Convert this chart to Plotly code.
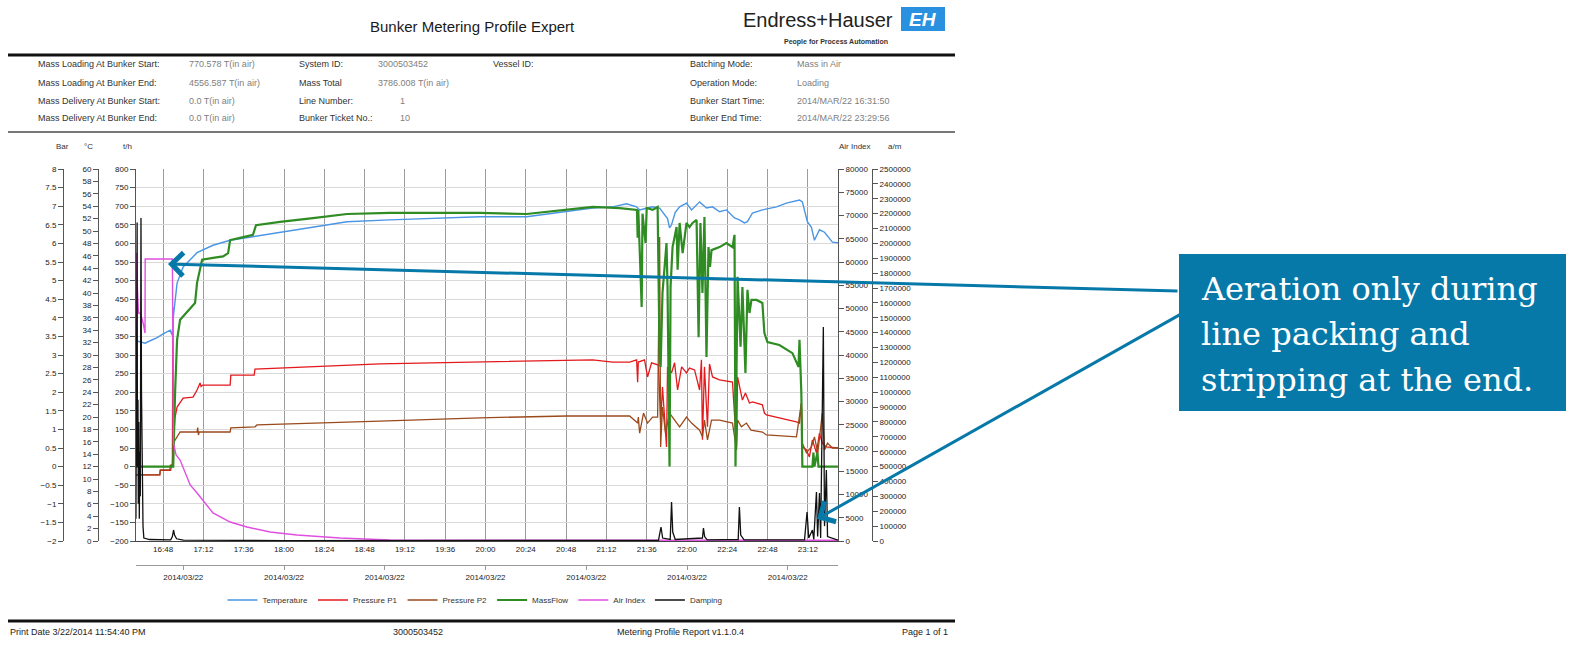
import pandas as pd
import plotly.graph_objects as go

W, H = 1572, 648
BASE = pd.Timestamp("2014-03-22 16:00:00")
T_START, T_END = 31.833, 449.933  # minutes after 16:00 (16:31:50 .. 23:29:56)

# ---------------- data (minutes after 16:00, value) ----------------
temp_t = [31.8, 37.3, 40.3, 44.4, 48.0, 52.2, 53.4, 54.0, 56.3, 58.1, 59.9, 68.2, 77.7, 87.9, 99.8,
          117.6, 137.2, 157.5, 183.0, 236.6, 264.5, 288.3, 303.8, 315.7, 324.0, 330.0, 331.8, 339.5,
          343.7, 348.4, 349.6, 350.8, 353.0, 355.6, 359.7, 362.7, 367.5, 371.6, 375.2, 379.4, 383.5,
          388.3, 391.2, 394.2, 396.0, 399.0, 404.9, 413.3, 419.2, 427.0, 428.7, 431.7, 434.1, 435.9,
          438.9, 441.9, 446.6, 449.9]
temp_v = [32.3, 31.9, 32.3, 32.8, 33.4, 34.0, 33.2, 36.0, 41.6, 43.0, 44.2, 46.5, 47.7, 48.5, 49.0,
          49.8, 50.6, 51.5, 51.8, 52.3, 52.3, 53.1, 53.7, 53.9, 54.4, 53.9, 53.4, 53.9,
          53.7, 52.0, 50.5, 51.0, 53.0, 53.9, 54.5, 53.4, 54.7, 53.7, 53.9, 53.1, 53.4,
          52.1, 51.8, 51.3, 51.5, 52.9, 53.4, 53.9, 54.5, 55.0, 54.7, 51.5, 50.6, 48.5,
          50.2, 49.8, 48.2, 48.1]

p1_t = [31.8, 46.0, 46.3, 52.5, 53.0, 53.5, 53.8, 54.1, 55.0, 56.3, 59.9, 65.8, 68.2, 70.0, 70.6,
        71.5, 87.9, 88.3, 102.2, 102.7, 177.1, 236.6, 288.3, 303.8, 315.7, 325.8, 330.0, 330.6,
        331.0, 334.7, 336.5, 338.9, 343.0, 344.3, 345.4, 347.8, 348.4, 350.8, 352.6, 354.4, 356.8,
        359.7, 361.5, 364.5, 367.5, 368.6, 369.2, 370.4, 372.2, 373.4, 375.2, 379.4, 387.1, 389.5,
        390.1, 393.0, 394.8, 397.2, 399.0, 404.9, 406.1, 407.3, 425.2, 427.0, 428.1, 428.7, 431.1,
        432.9, 434.7, 437.1, 438.9, 440.6, 443.0, 449.9]
p1_v = [-0.22, -0.22, -0.10, -0.10, 0.03, 0.03, 4.29, 0.66, 1.30, 1.60, 1.84, 1.87, 2.06, 2.25, 2.15,
        2.19, 2.19, 2.46, 2.46, 2.62, 2.76, 2.81, 2.87, 2.87, 2.81, 2.81, 2.87, 2.27,
        2.81, 2.87, 2.41, 2.79, 2.73, 1.17, 2.14, 0.53, 2.68, 2.52, 2.79, 2.06, 2.68,
        2.52, 2.65, 2.60, 2.06, 2.87, 0.72, 2.68, 1.07, 2.76, 2.41, 2.33, 2.27, 0.53,
        2.41, 1.79, 1.98, 1.71, 1.74, 1.66, 1.44, 1.39, 1.20, 1.17, 1.71, 0.53, 0.45,
        0.26, 0.72, 0.37, 0.90, 0.63, 0.53, 0.50]

p2_t = [31.8, 46.0, 46.3, 52.0, 52.3, 53.5, 54.0, 58.1, 68.2, 68.6, 69.0, 69.5, 87.9, 88.3, 102.7,
        103.9, 177.1, 236.6, 288.3, 325.8, 330.6, 331.0, 331.8, 334.1, 336.5, 339.5, 342.5, 343.7,
        344.3, 345.4, 347.2, 349.6, 355.6, 359.7, 362.7, 367.5, 369.2, 370.4, 372.2, 374.6, 379.4,
        387.1, 389.5, 390.1, 392.4, 395.4, 398.1, 404.9, 407.3, 425.2, 428.1, 428.7, 431.1, 434.1,
        435.9, 437.9, 440.6, 441.9, 443.7, 446.6, 449.9]
p2_v = [-0.22, -0.22, -0.09, -0.09, 0.04, 0.04, 0.63, 0.93, 0.93, 1.05, 0.85, 0.93, 0.93, 1.04, 1.07,
        1.12, 1.22, 1.31, 1.36, 1.36, 1.17, 1.33, 0.90, 1.44, 1.17, 1.33, 1.33, 6.17,
        0.53, 1.60, 0.90, 1.44, 1.07, 1.33, 1.17, 0.98, 0.80, 1.25, 0.72, 1.25, 1.25,
        1.17, 0.45, 1.25, 1.07, 1.17, 0.98, 0.93, 0.85, 0.80, 1.71, 0.63, 0.37, 0.53,
        0.80, 0.37, 1.44, 0.45, 0.63, 0.50, 0.50]

mf_t = [31.8, 53.4, 54.0, 55.1, 56.3, 58.1, 62.3, 67.0, 68.2, 70.0, 71.2, 77.7, 83.7, 86.7, 87.9,
        93.8, 101.5, 103.3, 117.6, 137.2, 157.5, 183.0, 236.6, 264.5, 288.3, 303.8, 319.9, 327.6,
        330.2, 330.6, 331.0, 333.0, 333.5, 335.3, 336.0, 339.5, 342.5, 343.7, 344.3, 345.4, 347.8,
        348.4, 349.6, 350.2, 351.4, 353.8, 354.4, 355.6, 357.4, 359.7, 361.5, 363.3, 365.7, 366.9,
        368.0, 369.2, 370.4, 371.6, 372.8, 373.7, 374.6, 379.4, 383.5, 387.1, 388.3, 388.9, 390.1,
        391.9, 393.0, 394.8, 396.0, 397.2, 398.4, 401.4, 404.9, 406.1, 407.9, 415.0, 422.8, 426.4,
        427.0, 428.1, 428.7, 434.7, 435.3, 435.9, 437.7, 438.3, 449.9]
mf_v = [0, 0, 0, 198, 341, 395, 416, 440, 494, 529, 556, 561, 565, 574, 609,
        615, 623, 649, 658, 668, 679, 682, 682, 679, 690, 698, 695, 690,
        690, 615, 690, 429, 680, 601, 695, 690, 698, 287, 268, 467, 601,
        483, 0, 483, 590, 644, 529, 655, 574, 655, 644, 655, 663, 348,
        655, 467, 671, 295, 590, 537, 582, 590, 601, 590, 623, 0, 510,
        322, 483, 252, 475, 413, 448, 448, 440, 359, 335, 327, 305, 268,
        341, 198, 0, 0, 38, 0, 38, 0, 0]

air_t = [31.8, 32.2, 32.6, 33.3, 34.3, 36.1, 37.2, 37.3, 53.5, 54.1, 55.7, 58.1, 64.1, 68.2, 77.7,
         87.9, 97.9, 111.7, 127.7, 153.3, 183.0, 449.9]
air_v = [38925, 61936, 55000, 49033, 49033, 46882, 44731, 60645, 60645, 21076, 18496, 17421, 12044,
         10324, 6023, 4086, 3011, 1935, 1290, 645, 215, 150]

damp_t = [31.8, 32.0, 32.2, 32.5, 32.7, 33.0, 33.2, 33.5, 33.8, 34.1, 34.4, 34.8, 35.1, 35.4, 35.7,
          36.0, 36.5, 40.0, 52.5, 53.5, 54.2, 54.8, 56.0, 60.0, 120.0, 343.0, 344.5, 345.5, 350.0,
          350.8, 351.5, 353.0, 369.2, 369.8, 370.5, 372.0, 390.5, 391.2, 392.0, 394.0, 430.0, 431.5,
          432.5, 434.7, 435.5, 437.1, 437.8, 438.9, 439.6, 441.2, 441.9, 443.0, 443.7, 449.9]
damp_v = [150000, 1200000, 300000, 2140000, 500000, 950000, 250000, 800000, 150000, 600000, 300000,
          2170000, 1000000, 700000, 300000, 100000, 20000, 10000, 8000, 30000, 74000, 40000, 15000,
          6000, 3000, 5000, 94000, 20000, 10000, 262000, 60000, 10000, 20000, 87000, 30000, 8000,
          10000, 228000, 40000, 8000, 8000, 195000, 20000, 74000, 10000, 329000, 30000, 322000,
          20000, 1438000, 100000, 477000, 30000, 5000]

series_names = ["Temperature", "Pressure P1", "Pressure P2", "MassFlow", "Air Index", "Damping"]
series_colors = ["#4a95e4", "#e3191c", "#9b4a1c", "#2e8c22", "#e04fe0", "#111111"]

header_labels = [
    (36, ["Mass Loading At Bunker Start:", "Mass Loading At Bunker End:",
          "Mass Delivery At Bunker Start:", "Mass Delivery At Bunker End:"], "#333333"),
    (187, ["770.578 T(in air)", "4556.587 T(in air)", "0.0 T(in air)", "0.0 T(in air)"], "#808080"),
    (297, ["System ID:", "Mass Total", "Line Number:", "Bunker Ticket No.:"], "#333333"),
    (376, ["3000503452", "3786.008 T(in air)", "", ""], "#808080"),
    (398, ["", "", "1", "10"], "#808080"),
    (491, ["Vessel ID:", "", "", ""], "#333333"),
    (688, ["Batching Mode:", "Operation Mode:", "Bunker Start Time:", "Bunker End Time:"], "#333333"),
    (795, ["Mass in Air", "Loading", "2014/MAR/22 16:31:50", "2014/MAR/22 23:29:56"], "#808080"),
]
row_y = [64, 83, 101, 118]


def T(mins):
    return [BASE + pd.Timedelta(minutes=m) for m in mins]


def px(x):
    return x / W


def py(y):
    return 1 - y / H


fig = go.Figure()
# order of axes defines layering: y (Bar) < y2 (°C) < y3 (t/h) < y4 (Air) < y5 (a/m)
specs = [
    (0, temp_t, temp_v, "y2", 1.4),
    (1, p1_t, p1_v, "y", 1.3),
    (2, p2_t, p2_v, "y", 1.3),
    (3, mf_t, mf_v, "y3", 2.2),
    (4, air_t, air_v, "y4", 1.4),
    (5, damp_t, damp_v, "y5", 1.3),
]
for idx, tt, vv, ya, lw in specs:
    fig.add_trace(go.Scatter(x=T(tt), y=vv, mode="lines", name=series_names[idx], yaxis=ya,
                             line=dict(color=series_colors[idx], width=lw), legendrank=idx + 1))

# carrier trace for the date axis
fig.add_trace(go.Scatter(x=T([T_START, T_END]), y=[None, None], xaxis="x2", yaxis="y",
                         mode="lines", showlegend=False, hoverinfo="skip"))

xdom = [px(136), px(838)]
ydom = [py(541), py(169)]
tickfont = dict(family="Liberation Sans, Arial", size=8, color="#222222")
xr = T([T_START, T_END])

common_y = dict(showline=True, linecolor="#555555", linewidth=1, ticks="outside", ticklen=5,
                tickcolor="#555555", tickfont=tickfont, zeroline=False, showgrid=False,
                exponentformat="none", fixedrange=True)

fig.update_layout(
    width=W, height=H, autosize=False,
    margin=dict(l=0, r=0, t=0, b=0, autoexpand=False),
    paper_bgcolor="white", plot_bgcolor="white",
    separators=".",
    font=dict(family="Liberation Sans, Arial", size=9, color="#333333"),
    xaxis=dict(domain=xdom, type="date", range=xr, tick0=BASE + pd.Timedelta(minutes=48),
               dtick=24 * 60 * 1000, tickformat="%H:%M", showgrid=True, gridcolor="#9c9c9c",
               gridwidth=1, showline=True, linecolor="#444444", ticks="", tickfont=tickfont,
               zeroline=False, anchor="y"),
    xaxis2=dict(type="date", range=xr, overlaying="x", anchor="free", position=py(565),
                tick0=BASE + pd.Timedelta(minutes=60), dtick=60 * 60 * 1000, tickformat="%Y/%m/%d",
                showgrid=False, showline=True, linecolor="#999999", ticks="outside", ticklen=4,
                tickcolor="#999999", tickfont=dict(family="Liberation Sans, Arial", size=8, color="#222222"),
                zeroline=False),
    yaxis=dict(domain=ydom, range=[-2, 8], dtick=0.5, tick0=0, anchor="free", position=px(63),
               side="left", **{**common_y, "showgrid": True}, gridcolor="#d9d9d9"),
    yaxis2=dict(range=[0, 60], dtick=2, tick0=0, overlaying="y", anchor="free", position=px(98),
                side="left", tickformat="d", **common_y),
    yaxis3=dict(range=[-200, 800], dtick=50, tick0=0, overlaying="y", anchor="x", side="left",
                tickformat="d", **common_y),
    yaxis4=dict(range=[0, 80000], dtick=5000, tick0=0, overlaying="y", anchor="x", side="right",
                tickformat="d", **common_y),
    yaxis5=dict(range=[0, 2500000], dtick=100000, tick0=0, overlaying="y", anchor="free",
                position=px(872), side="right", tickformat="d", **common_y),
    legend=dict(orientation="h", x=px(475), xanchor="center", y=py(600), yanchor="middle",
                font=dict(family="Liberation Sans, Arial", size=8, color="#333333"),
                bgcolor="rgba(0,0,0,0)", itemwidth=30, traceorder="normal"),
    showlegend=True,
)

ann = []
shapes = []

# axis titles
for x, txt in [(62, "Bar"), (88, "°C"), (127, "t/h"), (855, "Air Index"), (895, "a/m")]:
    ann.append(dict(x=px(x), y=py(146), xref="paper", yref="paper", text=txt, showarrow=False,
                    font=dict(size=8, color="#333333"), xanchor="center", yanchor="middle"))

# header
ann.append(dict(x=px(472), y=py(27), xref="paper", yref="paper", text="Bunker Metering Profile Expert",
                showarrow=False, font=dict(size=15, color="#1a1a1a"), xanchor="center", yanchor="middle"))
ann.append(dict(x=px(818), y=py(20), xref="paper", yref="paper", text="Endress+Hauser",
                showarrow=False, font=dict(size=20, color="#222222"), xanchor="center", yanchor="middle"))
ann.append(dict(x=px(836), y=py(42), xref="paper", yref="paper", text="<b>People for Process Automation</b>",
                showarrow=False, font=dict(size=7, color="#333333"), xanchor="center", yanchor="middle"))
shapes.append(dict(type="rect", xref="paper", yref="paper", x0=px(901), x1=px(945), y0=py(31), y1=py(7),
                   fillcolor="#2a90e0", line=dict(width=0)))
ann.append(dict(x=px(923), y=py(19), xref="paper", yref="paper", text="<b><i>EH</i></b>",
                showarrow=False, font=dict(size=19, color="white"), xanchor="center", yanchor="middle"))

for x, texts, col in header_labels:
    for yy, t in zip(row_y, texts):
        if t:
            ann.append(dict(x=px(x), y=py(yy), xref="paper", yref="paper", text=t, showarrow=False,
                            font=dict(size=9, color=col), xanchor="left", yanchor="middle"))

# separator lines
shapes.append(dict(type="line", xref="paper", yref="paper", x0=px(8), x1=px(955), y0=py(55), y1=py(55),
                   line=dict(color="#111111", width=3)))
shapes.append(dict(type="line", xref="paper", yref="paper", x0=px(8), x1=px(955), y0=py(132), y1=py(132),
                   line=dict(color="#777777", width=2)))
shapes.append(dict(type="line", xref="paper", yref="paper", x0=px(8), x1=px(955), y0=py(621), y1=py(621),
                   line=dict(color="#111111", width=3)))

# footer
for x, t, anc in [(8, "Print Date 3/22/2014 11:54:40 PM", "left"), (418, "3000503452", "center"),
                  (680, "Metering Profile Report v1.1.0.4", "center"), (950, "Page 1 of 1", "right")]:
    ann.append(dict(x=px(x), y=py(632), xref="paper", yref="paper", text=t, showarrow=False,
                    font=dict(size=9, color="#222222"), xanchor=anc, yanchor="middle"))

# callout
CALL = "#0779a9"
shapes.append(dict(type="rect", xref="paper", yref="paper", x0=px(1179), x1=px(1566), y0=py(411), y1=py(254),
                   fillcolor=CALL, line=dict(width=0)))
for yy, t in [(289, "Aeration only during"), (334, "line packing and"), (380, "stripping at the end.")]:
    ann.append(dict(x=px(1199), y=py(yy), xref="paper", yref="paper", text=t, showarrow=False,
                    font=dict(family="DejaVu Serif", size=32, color="white"), xanchor="left",
                    yanchor="middle"))
for tip, tail in [((168, 264), (1179, 291)), ((817, 519), (1181, 314))]:
    ann.append(dict(x=px(tip[0]), y=py(tip[1]), xref="paper", yref="paper", text="", showarrow=True,
                    ax=tail[0] - tip[0], ay=tail[1] - tip[1], arrowhead=4, arrowsize=1.5, arrowwidth=3,
                    arrowcolor=CALL, standoff=0, startstandoff=0))

fig.update_layout(annotations=ann, shapes=shapes)

post_js = (
    "var gd=document.getElementById('{plot_id}');"
    "gd.style.position='fixed';gd.style.top='0px';gd.style.left='0px';"
    "document.documentElement.style.overflow='hidden';"
    "document.documentElement.style.height='648px';"
    "document.body.style.margin='0';document.body.style.padding='0';"
    "document.body.style.overflow='hidden';document.body.style.height='648px';"
)
fig.write_html("out.html", config={"displayModeBar": False}, post_script=post_js)
